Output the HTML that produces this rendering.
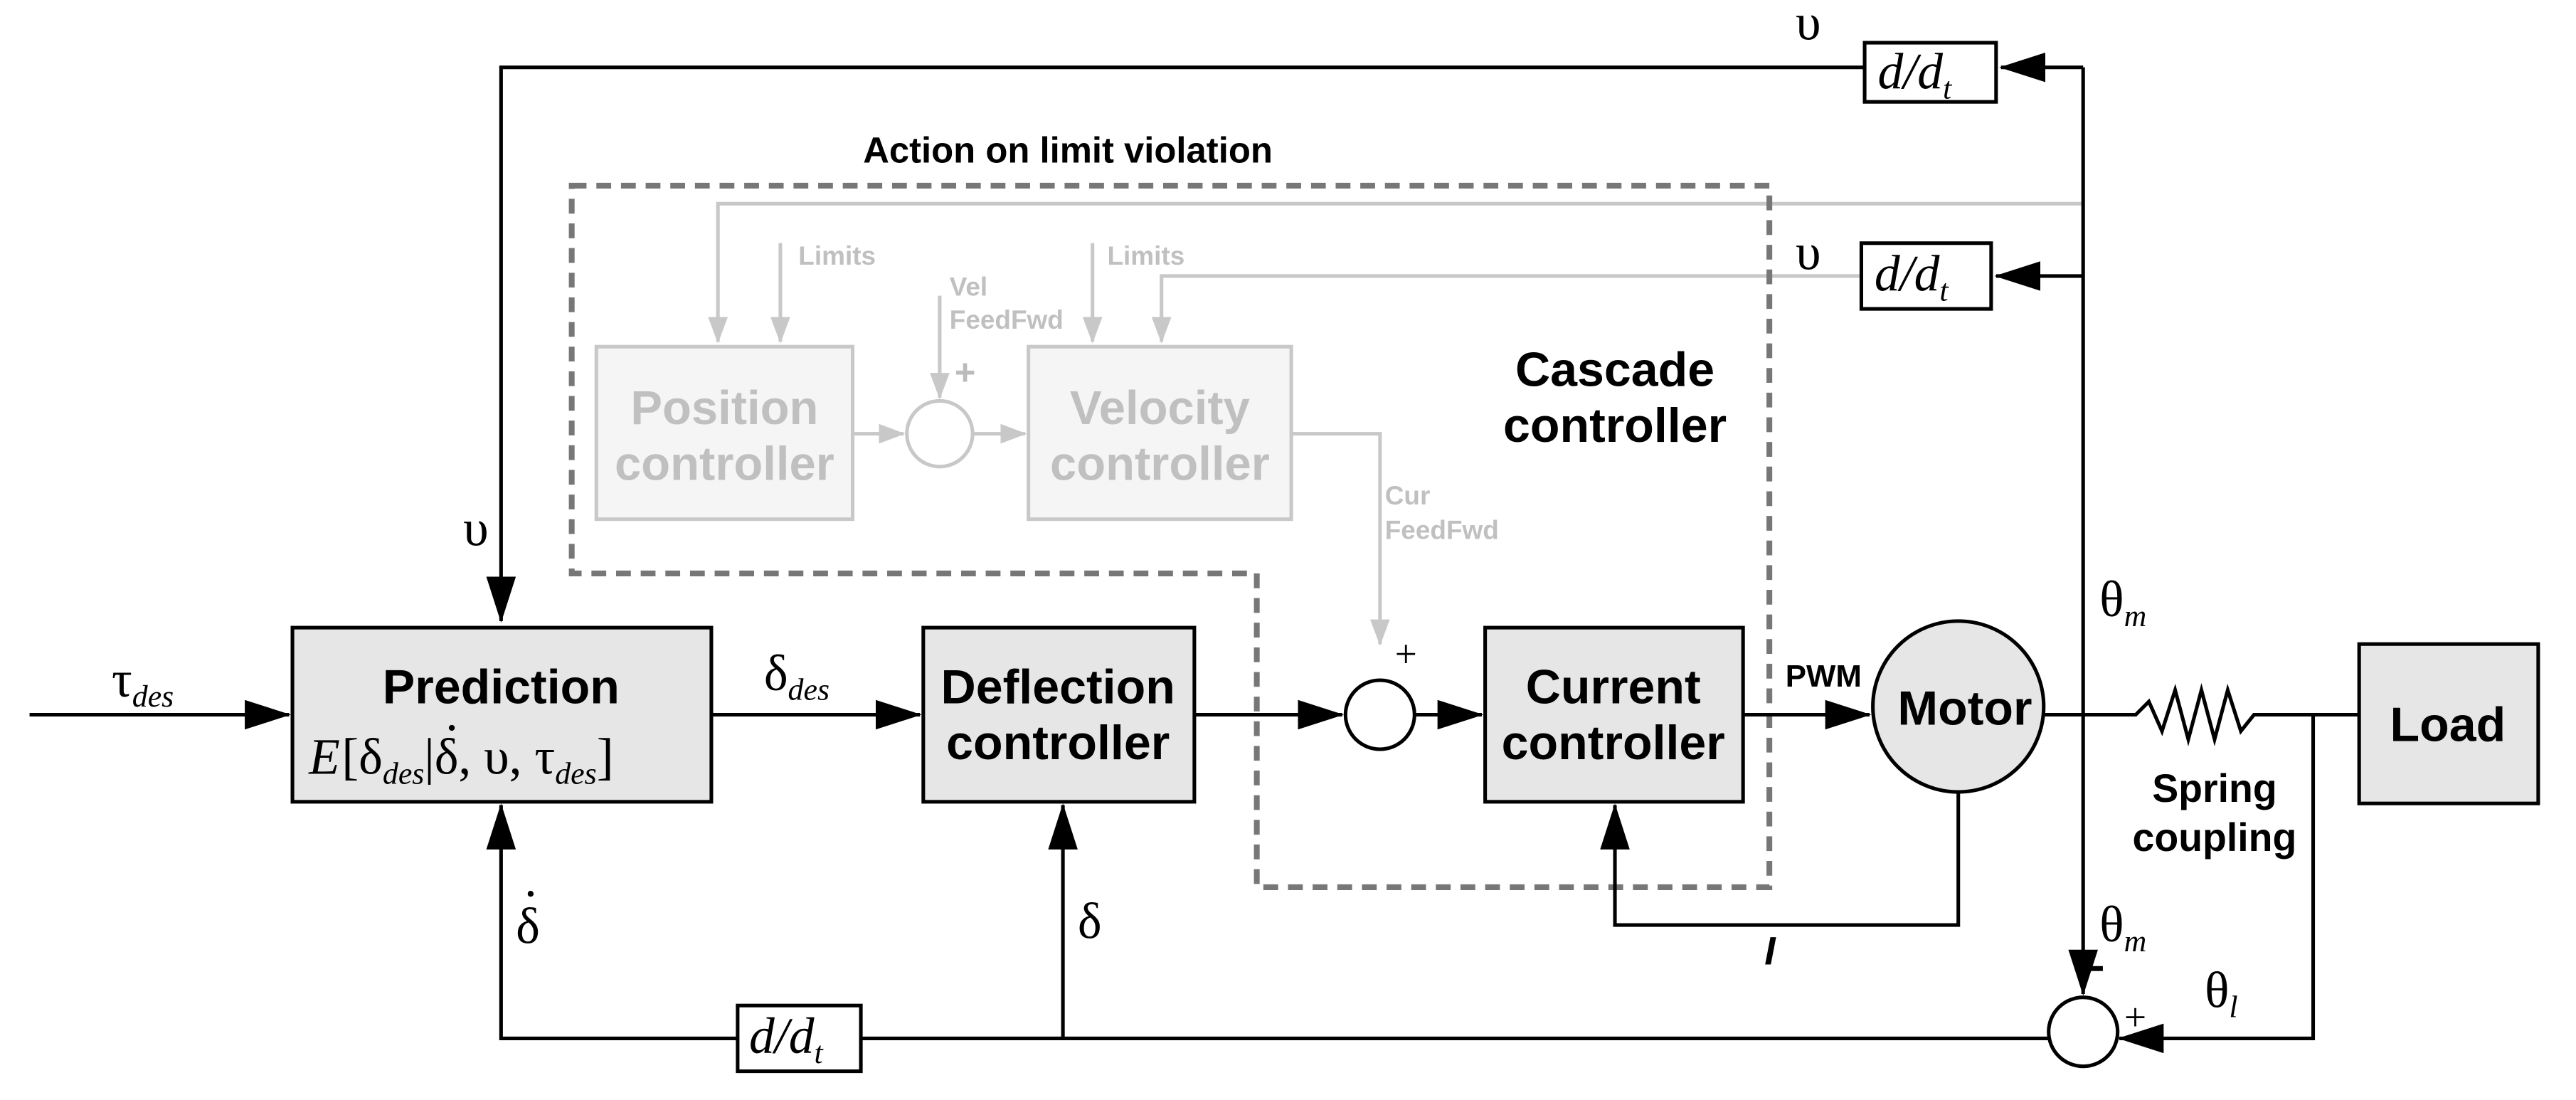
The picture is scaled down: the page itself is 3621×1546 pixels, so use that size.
<!DOCTYPE html>
<html><head><meta charset="utf-8"><style>
html,body{margin:0;padding:0;background:#fff;}
svg{display:block}
.b{font-family:"Liberation Sans",sans-serif;font-weight:bold;}
.s{font-family:"Liberation Serif",serif;}
</style></head><body>
<svg width="3621" height="1546" viewBox="0 0 1568 669.5" preserveAspectRatio="none" xmlns="http://www.w3.org/2000/svg">
<defs>
<marker id="A" markerWidth="28" markerHeight="18" refX="27" refY="9" orient="auto" markerUnits="userSpaceOnUse"><path d="M0,0 L28,9 L0,18 z" fill="#000"/></marker>
<marker id="g" markerWidth="16" markerHeight="12" refX="15" refY="6" orient="auto" markerUnits="userSpaceOnUse"><path d="M0,0 L16,6 L0,12 z" fill="#c8c8c8"/></marker>
</defs>
<g fill="none" stroke-width="2.2">
<g stroke="#c8c8c8">
<path d="M1268,124 H437 V208" marker-end="url(#g)"/>
<path d="M475,148 V208" marker-end="url(#g)"/>
<path d="M665,148 V208" marker-end="url(#g)"/>
<path d="M1133,168 H707 V208" marker-end="url(#g)"/>
<path d="M572,180 V242" marker-end="url(#g)"/>
<path d="M519,264 H550" marker-end="url(#g)"/>
<path d="M592,264 H624" marker-end="url(#g)"/>
<path d="M786,264 H840 V392" marker-end="url(#g)"/>
<rect x="363" y="211" width="156" height="105" fill="#f5f5f5"/>
<rect x="626" y="211" width="160" height="105" fill="#f5f5f5"/>
<circle cx="572" cy="264" r="20" fill="#fff"/>
</g>
<path d="M348,113 H1077 V540 H765 V349 H348 Z" stroke="#777" stroke-width="3.5" stroke-dasharray="9,6"/>
<g stroke="#000">
<path d="M1268,41 H1218" marker-end="url(#A)"/>
<path d="M1135,41 H305 V378" marker-end="url(#A)"/>
<path d="M1268,41 V605" marker-end="url(#A)"/>
<path d="M1268,168 H1215" marker-end="url(#A)"/>
<path d="M18,435 H176" marker-end="url(#A)"/>
<path d="M433,435 H560" marker-end="url(#A)"/>
<path d="M727,435 H817" marker-end="url(#A)"/>
<path d="M861,435 H902" marker-end="url(#A)"/>
<path d="M1061,435 H1138" marker-end="url(#A)"/>
<path d="M1244,435 H1300 L1308,427 L1316,445 L1324,420 L1332,450 L1340,420 L1348,450 L1356,420 L1364,445 L1372,435 H1436"/>
<path d="M1408,435 V632 H1290" marker-end="url(#A)"/>
<path d="M1192,482 V563 H983 V490" marker-end="url(#A)"/>
<path d="M1247,632 H524"/>
<path d="M449,632 H305 V490" marker-end="url(#A)"/>
<path d="M647,632 V490" marker-end="url(#A)"/>
<rect x="1135" y="26" width="80" height="36" fill="#fff"/>
<rect x="1133" y="148" width="79" height="40" fill="#fff"/>
<rect x="449" y="612" width="75" height="40" fill="#fff"/>
<rect x="178" y="382" width="255" height="106" fill="#e6e6e6"/>
<rect x="562" y="382" width="165" height="106" fill="#e6e6e6"/>
<rect x="904" y="382" width="157" height="106" fill="#e6e6e6"/>
<rect x="1436" y="392" width="109" height="97" fill="#e6e6e6"/>
<circle cx="1192" cy="430" r="52" fill="#e6e6e6"/>
<circle cx="840" cy="435" r="21" fill="#fff"/>
<circle cx="1268" cy="628" r="21" fill="#fff"/>
</g>
</g>
<g class="b" fill="#c0c0c0" font-size="16">
<text x="486" y="161">Limits</text><text x="674" y="161">Limits</text>
<text x="578" y="180">Vel</text><text x="578" y="200">FeedFwd</text>
<text x="843" y="307">Cur</text><text x="843" y="328">FeedFwd</text>
</g>
<g class="b" fill="#c0c0c0" font-size="29" text-anchor="middle">
<text x="441" y="258">Position</text><text x="441" y="292">controller</text>
<text x="706" y="258">Velocity</text><text x="706" y="292">controller</text>
</g>
<text class="b" x="581" y="234" font-size="22" fill="#bbb">+</text>
<g class="b" font-size="29.5" text-anchor="middle" fill="#000">
<text x="983" y="235">Cascade</text><text x="983" y="269">controller</text>
<text x="305" y="428">Prediction</text>
<text x="644" y="428">Deflection</text><text x="644" y="462">controller</text>
<text x="982" y="428">Current</text><text x="982" y="462">controller</text>
<text x="1196" y="441">Motor</text>
<text x="1490" y="451">Load</text>
<text x="1348" y="488" font-size="24">Spring</text><text x="1348" y="518" font-size="24">coupling</text>
<text x="650" y="99" font-size="22">Action on limit violation</text>
<text x="1110" y="418" font-size="19">PWM</text>
</g>
<text class="b" x="1074" y="587" font-size="24" font-style="italic">I</text>
<g class="s" font-size="31" fill="#000">
<text x="188" y="471" font-style="italic">E</text>
<text x="208" y="471">[δ<tspan font-size="19" font-style="italic" dy="6">des</tspan><tspan dy="-6">|δ, υ, τ</tspan><tspan font-size="19" font-style="italic" dy="6">des</tspan><tspan dy="-6">]</tspan></text>
<text x="68" y="424">τ<tspan font-size="19" font-style="italic" dy="6">des</tspan></text>
<text x="465" y="420">δ<tspan font-size="19" font-style="italic" dy="6">des</tspan></text>
<text x="1093" y="24">υ</text>
<text x="1093" y="164">υ</text>
<text x="282" y="332">υ</text>
<text x="314" y="574">δ</text>
<text x="656" y="571">δ</text>
<text x="1278" y="375">θ<tspan font-size="19" font-style="italic" dy="6">m</tspan></text>
<text x="1278" y="573">θ<tspan font-size="19" font-style="italic" dy="6">m</tspan></text>
<text x="1342" y="613">θ<tspan font-size="19" font-style="italic" dy="6">l</tspan></text>
<text x="1143" y="54" font-style="italic">d/d<tspan font-size="19" dy="6">t</tspan></text>
<text x="1141" y="177" font-style="italic">d/d<tspan font-size="19" dy="6">t</tspan></text>
<text x="456" y="641" font-style="italic">d/d<tspan font-size="19" dy="6">t</tspan></text>
<text x="849" y="406" font-size="24">+</text>
<text x="1293" y="627" font-size="24">+</text>
</g>
<circle cx="275" cy="443" r="1.8" fill="#000"/>
<circle cx="323" cy="544" r="1.8" fill="#000"/>
<rect x="1271" y="588" width="9" height="3" fill="#000"/>
</svg>
</body></html>
